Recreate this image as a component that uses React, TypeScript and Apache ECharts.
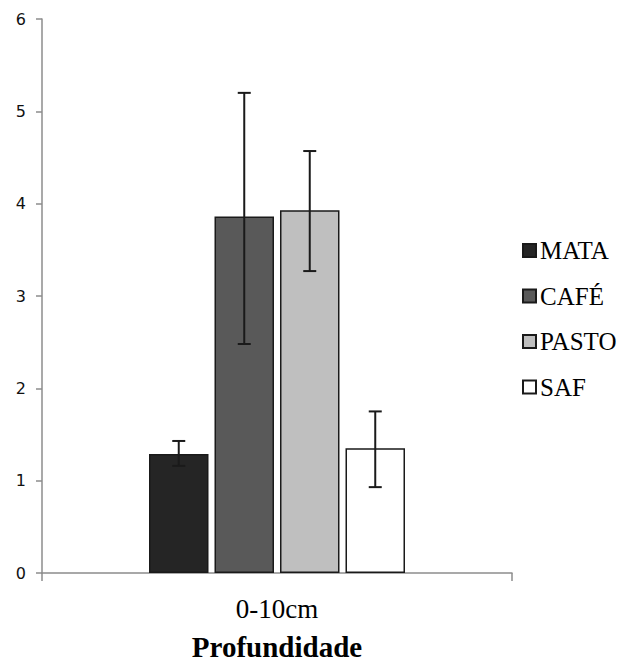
import React, { useEffect, useRef } from "react";
import * as echarts from "echarts";

const categories = ["0-10cm"];
const seriesNames = ["MATA", "CAFÉ", "PASTO", "SAF"];
const means = [1.29, 3.86, 3.93, 1.35];
const errLow = [1.16, 2.48, 3.27, 0.93];
const errHigh = [1.43, 5.2, 4.57, 1.75];
const colors = ["#252525", "#595959", "#bfbfbf", "#ffffff"];
const yTicks = [0, 1, 2, 3, 4, 5, 6];

const BAR_W = 59.5;
const BAR_GAP_PX = 6;
const SERIF = "'Liberation Serif', 'Times New Roman', serif";

export default function App() {
  const ref = useRef<HTMLDivElement>(null);
  useEffect(() => {
    if (!ref.current) return;
    const chart = echarts.init(ref.current, null, { renderer: "svg" });
    const n = seriesNames.length;
    const barSeries = seriesNames.map((name, i) => ({
      name,
      type: "bar",
      data: categories.map(() => means[i]),
      barWidth: BAR_W,
      barGap: ((BAR_GAP_PX / BAR_W) * 100).toFixed(2) + "%",
      itemStyle: { color: colors[i], borderColor: "#1a1a1a", borderWidth: 1.5 },
      z: 2,
    }));
    const errSeries = seriesNames.map((name, i) => ({
      type: "custom",
      name: name + "-err",
      data: categories.map((_, c) => [c, errLow[i], errHigh[i]]),
      z: 5,
      renderItem: (params: any, api: any) => {
        const c = api.value(0);
        const lo = api.coord([c, api.value(1)]);
        const hi = api.coord([c, api.value(2)]);
        const off = (i - (n - 1) / 2) * (BAR_W + BAR_GAP_PX);
        const x = lo[0] + off;
        const hw = 6.5;
        const style = { stroke: "#1a1a1a", lineWidth: 2, fill: "none" };
        return {
          type: "group",
          children: [
            { type: "line", shape: { x1: x, y1: lo[1], x2: x, y2: hi[1] }, style },
            { type: "line", shape: { x1: x - hw, y1: lo[1], x2: x + hw, y2: lo[1] }, style },
            { type: "line", shape: { x1: x - hw, y1: hi[1], x2: x + hw, y2: hi[1] }, style },
          ],
        };
      },
    }));
    chart.setOption({
      animation: false,
      backgroundColor: "#ffffff",
      grid: { left: 42, right: 116, top: 19, bottom: 89, containLabel: false },
      legend: {
        orient: "vertical",
        left: 517,
        top: 233,
        data: seriesNames,
        icon: "rect",
        itemWidth: 13,
        itemHeight: 13,
        itemGap: 20.5,
        textStyle: {
          fontFamily: SERIF,
          fontSize: 25,
          color: "#000",
          lineHeight: 25,
          padding: [0, 0, 0, -1],
        },
      },
      xAxis: {
        type: "category",
        data: categories,
        name: "Profundidade",
        nameLocation: "middle",
        nameGap: 59,
        nameTextStyle: {
          fontFamily: SERIF,
          fontWeight: "bold",
          fontSize: 29,
          color: "#000",
        },
        axisLine: { lineStyle: { color: "#8c8c8c", width: 1.5 } },
        axisTick: { show: true, length: 8, lineStyle: { color: "#8c8c8c", width: 1.5 } },
        axisLabel: {
          fontFamily: SERIF,
          fontSize: 27,
          color: "#000",
          margin: 22,
        },
      },
      yAxis: {
        type: "value",
        min: yTicks[0],
        max: yTicks[yTicks.length - 1],
        interval: 1,
        splitLine: { show: false },
        axisLine: { show: true, lineStyle: { color: "#8c8c8c", width: 1.5 } },
        axisTick: { show: true, length: 6, lineStyle: { color: "#8c8c8c", width: 1.5 } },
        axisLabel: {
          fontFamily: "'DejaVu Sans', Verdana, sans-serif",
          fontSize: 16,
          color: "#111",
          margin: 16,
        },
      },
      series: [...barSeries, ...errSeries],
    });
    return () => chart.dispose();
  }, []);
  return <div ref={ref} style={{ width: 628, height: 666, position: "absolute", left: 0, top: 0 }} />;
}
